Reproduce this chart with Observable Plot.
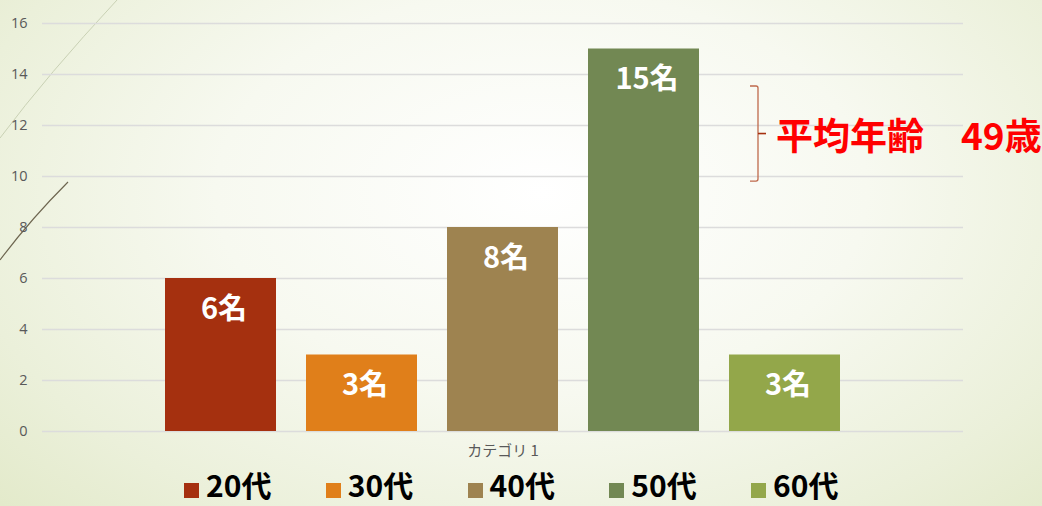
<!DOCTYPE html>
<html><head><meta charset="utf-8">
<script src="https://cdn.jsdelivr.net/npm/d3@7"></script>
<script src="https://cdn.jsdelivr.net/npm/@observablehq/plot@0.6"></script>
<style>
html,body{margin:0;padding:0;width:1042px;height:506px;overflow:hidden;}
body{background: radial-gradient(ellipse 78% 100% at 52% 38%, #ffffff 0%, #f7f9f0 40%, #ebf0da 72%, #dfe7c3 100%); position:relative; font-family:"Noto Sans CJK JP", sans-serif;}
#deco{position:absolute;left:0;top:0;}
#chart{position:relative;height:470px;}
#legend{position:relative;display:flex;margin-left:164px;margin-top:-8px;height:44px;align-items:center;}
.item{width:141.75px;display:flex;align-items:center;padding-left:20px;box-sizing:border-box;}
.sw{width:15px;height:15px;margin-right:7px;margin-top:12px;flex:none;}
.lab{font-weight:700;font-size:30px;line-height:44px;height:44px;color:#000;white-space:nowrap;}
</style></head>
<body>
<svg id="deco" width="1042" height="506">
  <path d="M0 138 Q 48 74 117 0" fill="none" stroke="#c9d1b4" stroke-width="1"/>
  <path d="M0 260 Q 30 220 68 182" fill="none" stroke="#6e6650" stroke-width="1.2"/>
</svg>
<div id="chart"></div>
<div id="legend"></div>
<script>
const categories = ["20代", "30代", "40代", "50代", "60代"];
const counts = [6, 3, 8, 15, 3];
const colors = ["#A5300F", "#E07F1A", "#9E8350", "#728853", "#93A74A"];
const yTicks = [0, 2, 4, 6, 8, 10, 12, 14, 16];
const groupLabel = "カテゴリ 1";
const unit = "名";
const annotationText = "平均年齢　49歳";
const annotationRange = [9.8, 13.53];
const annotationAt = "60代";

const data = categories.map((c, i) => ({cat: c, n: counts[i], label: counts[i] + unit}));

const chart = Plot.plot({
  width: 1042, height: 470,
  marginTop: 23, marginBottom: 39, marginLeft: 42, marginRight: 79,
  style: {background: "transparent", fontFamily: "Open Sans", fontSize: "14.5px", color: "#595959", overflow: "visible"},
  x: {domain: categories, paddingInner: 0.21, paddingOuter: 0.853, axis: null},
  y: {domain: [0, 16], ticks: yTicks, label: null},
  color: {domain: categories, range: colors},
  marks: [
    Plot.ruleY(yTicks, {stroke: "#dcdcdc", strokeWidth: 1.3}),
    Plot.axisY({ticks: yTicks, tickSize: 0, tickPadding: 15, label: null}),
    Plot.barY(data, {x: "cat", y: "n", fill: "cat"}),
    Plot.text(data, {x: "cat", y: "n", text: "label", dy: 31, dx: 3, fill: "white", fontSize: 29, fontWeight: "bold", fontFamily: "Noto Sans CJK JP"}),
    Plot.text([groupLabel], {frameAnchor: "bottom", dy: 24, fill: "#595959", fontSize: 15, fontFamily: "Noto Sans CJK JP"}),
    Plot.text([annotationText], {x: () => annotationAt, y: () => d3.mean(annotationRange), dx: -9, dy: 4, textAnchor: "start", fill: "#ff0000", fontSize: 37, fontWeight: "bold", fontFamily: "Noto Sans CJK JP"})
  ]
});
document.getElementById("chart").appendChild(chart);

// bracket annotation drawn through the plot's scales
const xs = chart.scale("x"), ys = chart.scale("y");
const x0 = xs.apply(annotationAt) + 29;
const yT = ys.apply(annotationRange[1]), yB = ys.apply(annotationRange[0]), yM = (yT + yB) / 2;
const svg = d3.select(chart);
svg.append("path")
  .attr("d", `M${x0 - 8},${yT} L${x0 - 2},${yT} Q${x0},${yT} ${x0},${yT + 2} L${x0},${yB - 2} Q${x0},${yB} ${x0 - 2},${yB} L${x0 - 8},${yB}`)
  .attr("fill", "none").attr("stroke", "#bf6a4c").attr("stroke-width", 1.3);
svg.append("path")
  .attr("d", `M${x0},${yM} L${x0 + 8},${yM}`)
  .attr("fill", "none").attr("stroke", "#a5300f").attr("stroke-width", 1.6);

// legend
const legend = d3.select("#legend");
categories.forEach((c, i) => {
  const it = legend.append("div").attr("class", "item");
  it.append("div").attr("class", "sw").style("background", colors[i]);
  it.append("div").attr("class", "lab").text(c);
});
</script>
</body></html>
